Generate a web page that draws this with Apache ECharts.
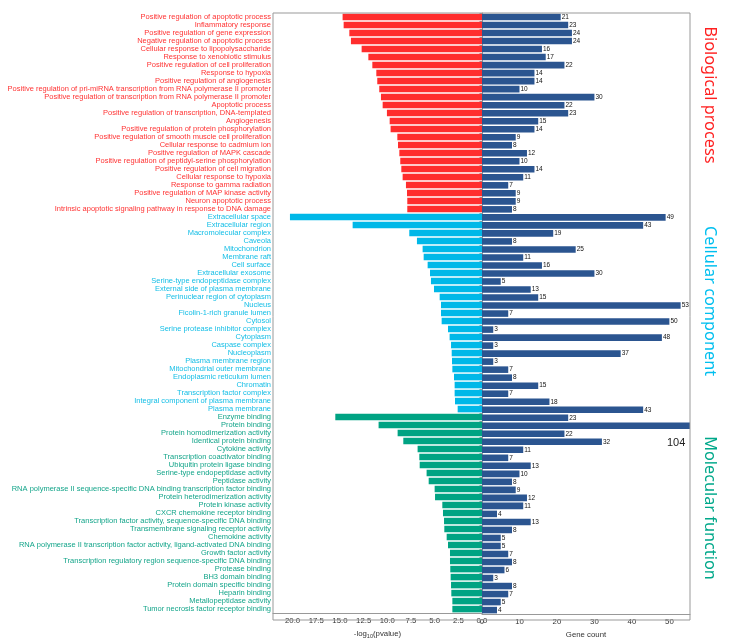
<!DOCTYPE html>
<html>
<head>
<meta charset="utf-8">
<script src="https://cdn.jsdelivr.net/npm/echarts@6/dist/echarts.min.js"></script>
<style>
html,body{margin:0;padding:0;background:#fff;}
#main{width:729px;height:644px;}
</style>
</head>
<body>
<div id="main"></div>
<script>
var bpTerms = ["Positive regulation of apoptotic process","Inflammatory response","Positive regulation of gene expression","Negative regulation of apoptotic process","Cellular response to lipopolysaccharide","Response to xenobiotic stimulus","Positive regulation of cell proliferation","Response to hypoxia","Positive regulation of angiogenesis","Positive regulation of pri-miRNA transcription from RNA polymerase II promoter","Positive regulation of transcription from RNA polymerase II promoter","Apoptotic process","Positive regulation of transcription, DNA-templated","Angiogenesis","Positive regulation of protein phosphorylation","Positive regulation of smooth muscle cell proliferation","Cellular response to cadmium ion","Positive regulation of MAPK cascade","Positive regulation of peptidyl-serine phosphorylation","Positive regulation of cell migration","Cellular response to hypoxia","Response to gamma radiation","Positive regulation of MAP kinase activity","Neuron apoptotic process","Intrinsic apoptotic signaling pathway in response to DNA damage"];
var bpLogP = [14.72,14.61,14.01,13.84,12.71,12.0,11.58,11.16,11.06,10.85,10.67,10.49,10.04,9.75,9.65,8.94,8.87,8.73,8.63,8.52,8.38,8.03,7.92,7.89,7.89];
var bpCount = [21,23,24,24,16,17,22,14,14,10,30,22,23,15,14,9,8,12,10,14,11,7,9,9,8];

var ccTerms = ["Extracellular space","Extracellular region","Macromolecular complex","Caveola","Mitochondrion","Membrane raft","Cell surface","Extracellular exosome","Serine-type endopeptidase complex","External side of plasma membrane","Perinuclear region of cytoplasm","Nucleus","Ficolin-1-rich granule lumen","Cytosol","Serine protease inhibitor complex","Cytoplasm","Caspase complex","Nucleoplasm","Plasma membrane region","Mitochondrial outer membrane","Endoplasmic reticulum lumen","Chromatin","Transcription factor complex","Integral component of plasma membrane","Plasma membrane"];
var ccLogP = [20.28,13.66,7.68,6.87,6.27,6.16,5.74,5.49,5.39,5.07,4.47,4.33,4.33,4.26,3.59,3.42,3.27,3.20,3.17,3.13,2.96,2.89,2.89,2.85,2.57];
var ccCount = [49,43,19,8,25,11,16,30,5,13,15,53,7,50,3,48,3,37,3,7,8,15,7,18,43];

var mfTerms = ["Enzyme binding","Protein binding","Protein homodimerization activity","Identical protein binding","Cytokine activity","Transcription coactivator binding","Ubiquitin protein ligase binding","Serine-type endopeptidase activity","Peptidase activity","RNA polymerase II sequence-specific DNA binding transcription factor binding","Protein heterodimerization activity","Protein kinase activity","CXCR chemokine receptor binding","Transcription factor activity, sequence-specific DNA binding","Transmembrane signaling receptor activity","Chemokine activity","RNA polymerase II transcription factor activity, ligand-activated DNA binding","Growth factor activity","Transcription regulatory region sequence-specific DNA binding","Protease binding","BH3 domain binding","Protein domain specific binding","Heparin binding","Metallopeptidase activity","Tumor necrosis factor receptor binding"];
var mfLogP = [15.49,10.92,8.91,8.31,6.80,6.62,6.58,5.85,5.63,5.00,4.96,4.19,4.12,4.01,3.98,3.73,3.59,3.38,3.38,3.35,3.31,3.27,3.24,3.13,3.13];
var mfCount = [23,104,22,32,11,7,13,10,8,9,12,11,4,13,8,5,5,7,8,6,3,8,7,5,4];

var groupNames = ["Biological process","Cellular component","Molecular function"];
var barColors = ["#FF2D2D","#00B8E8","#00A383"];
var labelColors = ["#FF3333","#14BEE6","#14A58A"];
var countColor = "#2B5590";

var terms = [], logp = [], counts = [], groupOf = [];
[[bpTerms,bpLogP,bpCount],[ccTerms,ccLogP,ccCount],[mfTerms,mfLogP,mfCount]].forEach(function(g, gi){
  g[0].forEach(function(t, i){
    terms.push(t); logp.push(g[1][i]); counts.push(g[2][i]); groupOf.push(gi);
  });
});

var leftData = logp.map(function(v, i){
  return {value: v, itemStyle: {color: barColors[groupOf[i]]}};
});
var rightMax = 55.5;
var rightData = counts.map(function(v, i){
  var d = {value: v};
  if (v > rightMax) {
    d.label = {show: true, position: [185, 15], fontSize: 11, color: '#222', formatter: String(v)};
  }
  return d;
});

var FONT = 'Liberation Sans, Arial, sans-serif';
var chart = echarts.init(document.getElementById('main'), null, {renderer: 'canvas'});
var gTop = 13, gBottom = 24, gLeft = 273, gMid = 482, gRight = 39;

var option = {
  animation: false,
  backgroundColor: '#fff',
  grid: [
    {left: gLeft, top: gTop, width: gMid - gLeft, bottom: gBottom},
    {left: gMid, top: gTop, right: gRight, bottom: gBottom}
  ],
  xAxis: [
    {type: 'value', gridIndex: 0, inverse: true, min: 0, max: 22.07, interval: 2.5,
     splitLine: {show: false}, axisTick: {show: false},
     axisLine: {show: true, lineStyle: {color: '#999', width: 1}},
     axisLabel: {fontSize: 7.8, color: '#333', fontFamily: FONT, margin: 4,
       formatter: function(v){ return (Math.abs(v/2.5 - Math.round(v/2.5)) < 1e-6) ? v.toFixed(1) : ''; }},
     name: '-log{sub|10}(pvalue)', nameLocation: 'middle', nameGap: 14,
     nameTextStyle: {fontSize: 7.8, color: '#333', fontFamily: FONT,
       rich: {sub: {fontSize: 5.5, verticalAlign: 'bottom', color: '#333', fontFamily: FONT, padding: [4,0,0,0]}}}
    },
    {type: 'value', gridIndex: 1, min: 0, max: rightMax, interval: 10,
     splitLine: {show: false}, axisTick: {show: false},
     axisLine: {show: true, lineStyle: {color: '#999', width: 1}},
     axisLabel: {fontSize: 7.8, color: '#333', fontFamily: FONT, margin: 4,
       formatter: function(v){ return (v % 10 === 0) ? String(v) : ''; }},
     name: 'Gene count', nameLocation: 'middle', nameGap: 14,
     nameTextStyle: {fontSize: 7.8, color: '#333', fontFamily: FONT}
    }
  ],
  yAxis: [
    {type: 'category', gridIndex: 0, inverse: true, data: terms,
     axisLine: {show: true, lineStyle: {color: '#999', width: 1}},
     axisTick: {show: true, length: 2.5, lineStyle: {color: '#999'}},
     axisLabel: {fontSize: 7.5, fontFamily: FONT, margin: 2, interval: 0,
       color: function(val, idx){ return labelColors[groupOf[idx]]; }}
    },
    {type: 'category', gridIndex: 1, inverse: true, data: terms, show: false}
  ],
  series: [
    {type: 'bar', xAxisIndex: 0, yAxisIndex: 0, data: leftData, barCategoryGap: '18%'},
    {type: 'bar', xAxisIndex: 1, yAxisIndex: 1, data: rightData, barCategoryGap: '18%',
     itemStyle: {color: countColor},
     label: {show: true, position: 'right', distance: 1, fontSize: 6.5, color: '#111', fontFamily: FONT}
    }
  ],
  graphic: [
    {type: 'rect', z: 100, silent: true,
     shape: {x: gLeft, y: gTop, width: 729 - gRight - gLeft, height: 644 - gBottom - gTop},
     style: {fill: null, stroke: '#999', lineWidth: 1}},
    {type: 'text', x: 710, y: 95, rotation: -Math.PI/2, z: 100,
     style: {text: groupNames[0], fill: '#FF2020', font: '16.3px "Noto Sans", sans-serif', textAlign: 'center', textVerticalAlign: 'middle'}},
    {type: 'text', x: 710, y: 301, rotation: -Math.PI/2, z: 100,
     style: {text: groupNames[1], fill: '#00BFEF', font: '16.3px "Noto Sans", sans-serif', textAlign: 'center', textVerticalAlign: 'middle'}},
    {type: 'text', x: 710, y: 508, rotation: -Math.PI/2, z: 100,
     style: {text: groupNames[2], fill: '#00A88A', font: '16.3px "Noto Sans", sans-serif', textAlign: 'center', textVerticalAlign: 'middle'}}
  ]
};
chart.setOption(option);
</script>
</body>
</html>
